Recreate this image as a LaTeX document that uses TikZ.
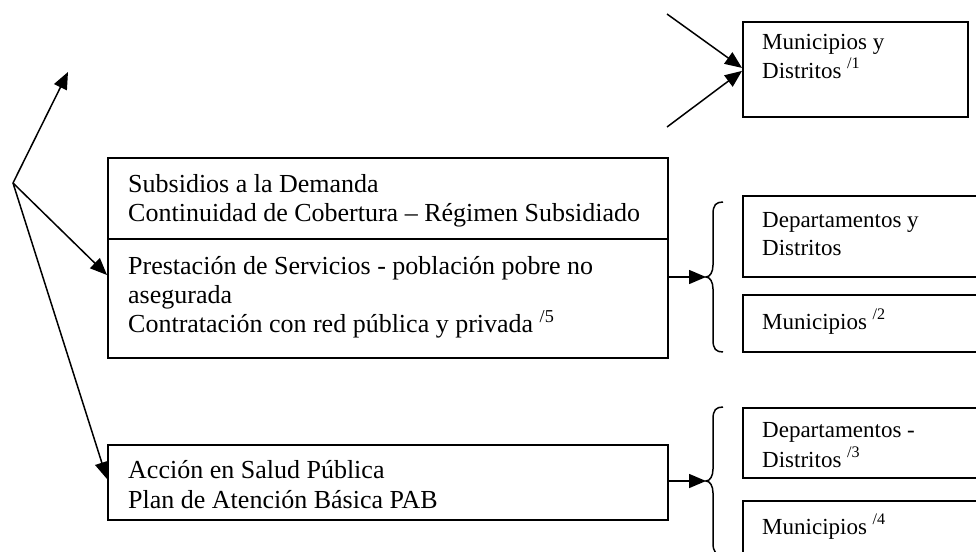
\documentclass[tikz,border=0pt]{standalone}
\usepackage{fontspec}
\setmainfont{Liberation Serif}
\usetikzlibrary{arrows.meta}
\begin{document}
\begin{tikzpicture}[x=1pt,y=-1pt,
  box/.style={draw,line width=1.8pt,inner sep=0pt,minimum width=#1},
  conn/.style={line width=1.5pt,-{Triangle[length=17pt,width=14pt]}},
  bracestyle/.style={line width=1.5pt},
  maintxt/.style={anchor=base west,inner sep=0pt,font=\fontsize{26}{29}\selectfont},
  sidetxt/.style={anchor=base west,inner sep=0pt,font=\fontsize{23}{28}\selectfont}]
\useasboundingbox (0,0) rectangle (976,551);
\clip (0,0) rectangle (976,551);
% boxes
\node[box=560pt,minimum height=81pt,anchor=north west] (mainA) at (107,157) {};
\node[box=560pt,minimum height=119pt,anchor=north west] (mainB) at (107,238) {};
\node[box=560pt,minimum height=75pt,anchor=north west] (pab) at (107,444) {};
\node[box=225pt,minimum height=95pt,anchor=north west] (tr) at (742,21) {};
\node[box=260pt,minimum height=81pt,anchor=north west] (dep1) at (742,195) {};
\node[box=260pt,minimum height=57pt,anchor=north west] (mun2) at (742,294) {};
\node[box=260pt,minimum height=70pt,anchor=north west] (dep3) at (742,407) {};
\node[box=260pt,minimum height=70pt,anchor=north west] (mun4) at (742,500) {};
% texts
\node[maintxt] (t1) at (128,192) {Subsidios a la Demanda};
\node[maintxt] (t2) at (128,221) {Continuidad de Cobertura – Régimen Subsidiado};
\node[maintxt] (t3) at (128,274) {Prestación de Servicios - población pobre no};
\node[maintxt] (t4) at (128,303) {asegurada};
\node[maintxt] (t5) at (128,332) {Contratación con red pública y privada \textsuperscript{/5}};
\node[maintxt] (t6) at (128,478) {Acción en Salud Pública};
\node[maintxt] (t7) at (128,508) {Plan de Atención Básica PAB};
\node[sidetxt] (s1) at (762,50) {Municipios y};
\node[sidetxt] (s2) at (762,78) {Distritos \textsuperscript{/1}};
\node[sidetxt] (s3) at (762,227) {Departamentos y};
\node[sidetxt] (s4) at (762,255) {Distritos};
\node[sidetxt] (s5) at (762,329) {Municipios \textsuperscript{/2}};
\node[sidetxt] (s6) at (762,437) {Departamentos -};
\node[sidetxt] (s7) at (762,467) {Distritos \textsuperscript{/3}};
\node[sidetxt] (s8) at (762,534) {Municipios \textsuperscript{/4}};
% coordinates
\coordinate (root) at (13,183);
\coordinate (up) at (68,72);
\coordinate (in1) at (667,14);
\coordinate (in2) at (667,127);
\coordinate (b1) at (706,277);
\coordinate (b2) at (706,481);
% braces
\draw[bracestyle] (723,202) .. controls (716,202) and (713,205) .. (713,214) -- (713,265)
  .. controls (713,272) and (710,277) .. (b1)
  .. controls (710,277) and (713,282) .. (713,289) -- (713,340)
  .. controls (713,349) and (716,352) .. (723,352);
\draw[bracestyle] (723,407) .. controls (716,407) and (713,410) .. (713,419) -- (713,469)
  .. controls (713,476) and (710,481) .. (b2)
  .. controls (710,481) and (713,486) .. (713,493) -- (713,543)
  .. controls (713,552) and (716,555) .. (723,555);
% connectors
\draw[conn] (root) -- (up);
\draw[conn] (root) -- ([yshift=-37pt]mainB.north west);
\draw[conn] (root) -- ([yshift=-35pt]pab.north west);
\draw[conn] (in1) -- ([yshift=1.5pt]tr.west);
\draw[conn] (in2) -- ([yshift=-1.5pt]tr.west);
\draw[conn] ([yshift=-39pt]mainB.north east) -- (b1);
\draw[conn] ([yshift=-37pt]pab.north east) -- (b2);
\end{tikzpicture}
\end{document}
